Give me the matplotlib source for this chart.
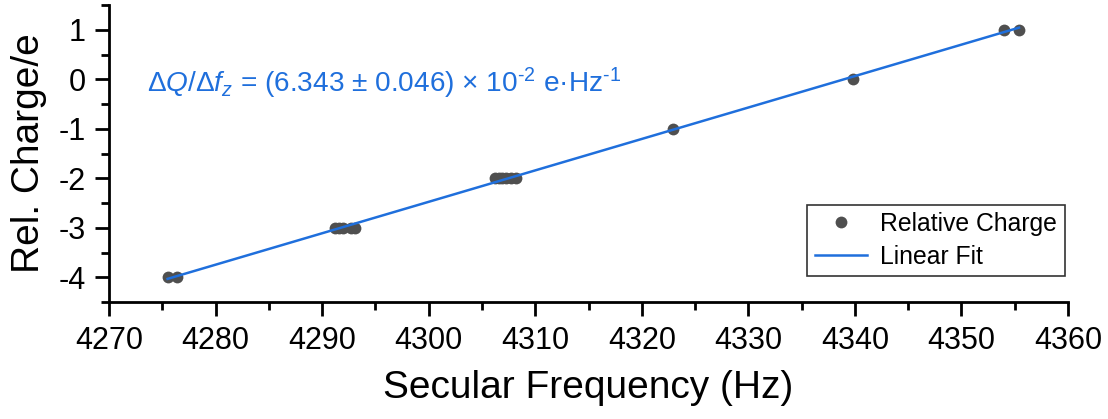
import numpy as np
import matplotlib
matplotlib.use('Agg')
import matplotlib.pyplot as plt
from matplotlib.ticker import MultipleLocator

plt.rcParams['font.family'] = ['Liberation Sans', 'DejaVu Sans']
plt.rcParams['mathtext.fontset'] = 'custom'
plt.rcParams['mathtext.rm'] = 'Liberation Sans'
plt.rcParams['mathtext.it'] = 'Liberation Sans:italic'

# secular frequency (Hz) and relative charge (e)
freq = [4275.5, 4276.4,
        4291.2, 4291.6, 4292.0, 4292.7, 4293.1,
        4306.2, 4306.6, 4306.9, 4307.3, 4307.7, 4308.2,
        4322.9, 4339.8, 4354.0, 4355.4]
charge = [-4, -4,
          -3, -3, -3, -3, -3,
          -2, -2, -2, -2, -2, -2,
          -1, 0, 1, 1]

blue = '#1f6fdc'
grey = '#4f4f4f'

x = np.array(freq)
y = np.array(charge)
p = np.polyfit(x, y, 1)
xf = np.array([x.min(), x.max()])

fig = plt.figure(figsize=(11.08, 4.19), dpi=100)
ax = fig.add_axes([109 / 1108, 1 - 302 / 419, (1068 - 109) / 1108, (302 - 5) / 419])

ax.plot(x, y, 'o', color=grey, ms=8.5, mec='none', label='Relative Charge', zorder=2)
ax.plot(xf, np.polyval(p, xf), '-', color=blue, lw=1.8, label='Linear Fit', zorder=3)

ax.set_xlim(4270, 4360)
ax.set_ylim(-4.5, 1.5)
ax.xaxis.set_major_locator(MultipleLocator(10))
ax.xaxis.set_minor_locator(MultipleLocator(5))
ax.yaxis.set_major_locator(MultipleLocator(1))
ax.yaxis.set_minor_locator(MultipleLocator(0.5))
ax.set_yticks([-4, -3, -2, -1, 0, 1])
ax.set_yticklabels(['-4', '-3', '-2', '-1', '0', '1'])

for s in ['top', 'right']:
    ax.spines[s].set_visible(False)
for s in ['left', 'bottom']:
    ax.spines[s].set_linewidth(2)
ax.tick_params(which='major', direction='out', length=10, width=2, labelsize=22, pad=7)
ax.tick_params(which='minor', direction='out', length=6, width=2)

ax.set_xlabel('Secular Frequency (Hz)', fontsize=28, labelpad=10)
ax.set_ylabel('Rel. Charge/e', fontsize=28, labelpad=8)

ax.text(4273.6, -0.27,
        r'$\mathit{ΔQ/Δf}_z$ = (6.343 ± 0.046) × 10$^{\text{-2}}$ e·Hz$^{\text{-1}}$',
        color=blue, fontsize=20.2, va='baseline')

leg = ax.legend(loc='lower right', bbox_to_anchor=(0.9965, 0.087), fontsize=17.8,
                frameon=True, fancybox=False, edgecolor='black', borderpad=0.3,
                handlelength=2.1, handletextpad=0.55, labelspacing=0.35, borderaxespad=0)
leg.get_frame().set_linewidth(1.2)

fig.savefig('out.png', dpi=100)
